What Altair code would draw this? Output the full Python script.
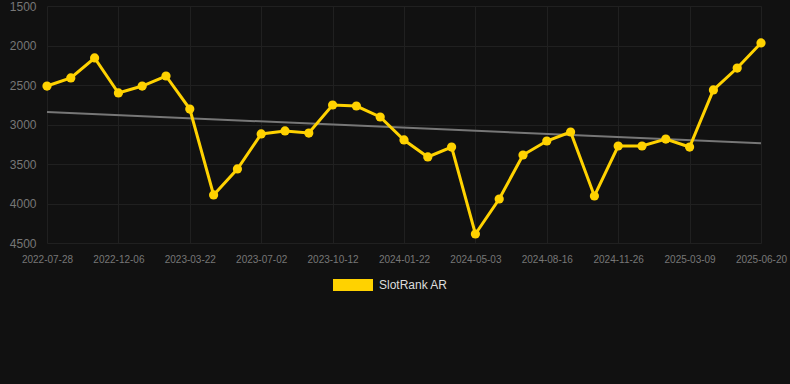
import altair as alt
import pandas as pd

tick_labels = ["2022-07-28", "2022-12-06", "2023-03-22", "2023-07-02", "2023-10-12",
               "2024-01-22", "2024-05-03", "2024-08-16", "2024-11-26", "2025-03-09",
               "2025-06-20"]
ranks = [2513, 2411, 2158, 2601, 2513, 2386, 2804, 3892, 3563, 3120,
         3082, 3108, 2753, 2766, 2905, 3196, 3411, 3285, 4386, 3943,
         3386, 3209, 3095, 3905, 3272, 3272, 3184, 3285, 2563, 2285,
         1968]
series_name = "SlotRank AR"

df = pd.DataFrame({"idx": list(range(len(ranks))), "rank": ranks, "series": series_name})

label_arr = "[" + ",".join("'%s'" % s for s in tick_labels) + "]"

FONT = "Liberation Sans"
YELLOW = "#FFD200"

x = alt.X("idx:Q",
          scale=alt.Scale(domain=[0, len(ranks) - 1], nice=False, zero=False),
          axis=alt.Axis(values=list(range(0, len(ranks), 3)),
                        labelExpr=label_arr + "[round(datum.value/3)]",
                        title=None, ticks=False, domain=False,
                        labelOverlap=False, labelFlush=False, labelBound=False,
                        labelColor="#777777", labelFontSize=10, labelFont=FONT,
                        labelPadding=11, gridColor="#202020", gridWidth=1))
y = alt.Y("rank:Q",
          scale=alt.Scale(domain=[1500, 4500], reverse=True, nice=False, zero=False),
          axis=alt.Axis(values=[1500, 2000, 2500, 3000, 3500, 4000, 4500], format="d",
                        title=None, ticks=False, domain=False,
                        labelOverlap=False, labelFlush=False, labelBound=False,
                        labelColor="#777777", labelFontSize=12, labelFont=FONT,
                        labelPadding=11, gridColor="#202020", gridWidth=1))

base = alt.Chart(df)

trend = base.transform_regression("idx", "rank").mark_line(
    color="#777777", strokeWidth=2
).encode(x=x, y=y)

color = alt.Color("series:N",
                  scale=alt.Scale(domain=[series_name], range=[YELLOW]),
                  legend=alt.Legend(title=None, orient="none", legendX=286, legendY=259,
                                    symbolType="M-1,-0.3L1,-0.3L1,0.3L-1,0.3Z",
                                    symbolSize=1600, symbolStrokeWidth=0,
                                    symbolFillColor=YELLOW,
                                    labelColor="#dddddd", labelFontSize=12, labelFont=FONT,
                                    labelOffset=6, padding=0))

line = base.mark_line(strokeWidth=3).encode(x=x, y=y, color=color)
points = base.mark_circle(size=85, opacity=1).encode(x=x, y=y, color=alt.Color("series:N", legend=None,
                  scale=alt.Scale(domain=[series_name], range=[YELLOW])))

chart = alt.layer(trend, line, points).properties(
    width=714, height=237,
    background="#111111",
    padding={"left": 47, "top": 6, "right": 29, "bottom": 141},
    autosize=alt.AutoSizeParams(type="none"),
).configure_view(stroke=None)

chart.save("out.html", embed_options={"renderer": "svg", "actions": False})
